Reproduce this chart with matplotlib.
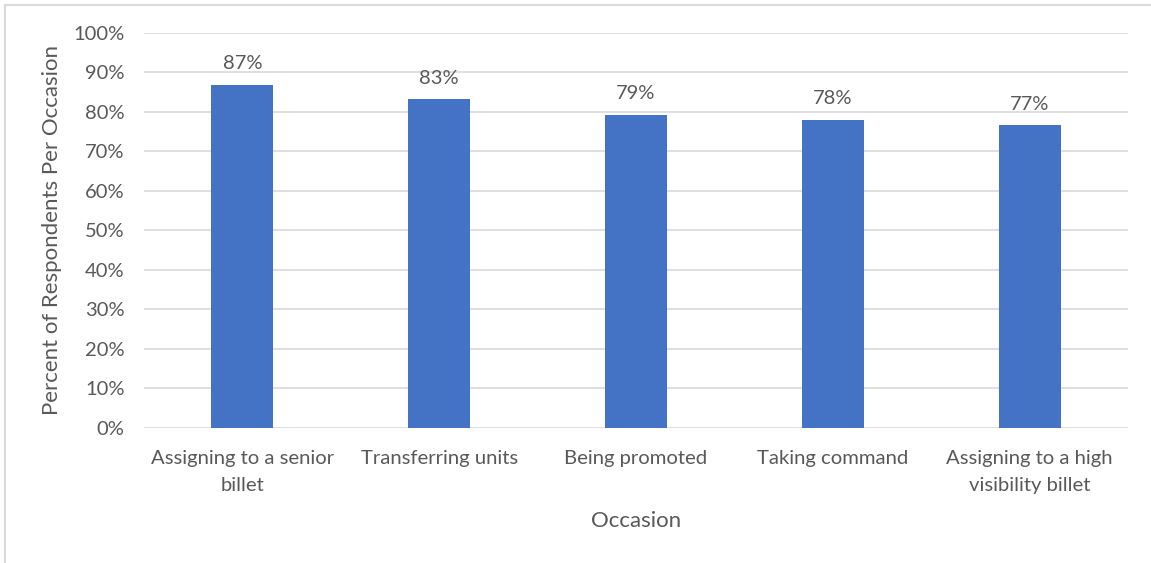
import matplotlib.pyplot as plt
from matplotlib.lines import Line2D
from matplotlib.ticker import PercentFormatter

# Share of respondents by occasion
occasions = ['Assigning to a senior\nbillet', 'Transferring units', 'Being promoted',
             'Taking command', 'Assigning to a high\nvisibility billet']
percents = [86.8, 83.2, 79.3, 78.0, 76.6]

plt.rcParams['font.family'] = ['Lato', 'DejaVu Sans']
text_color = '#595959'
grid_color = '#D9D9D9'

fig = plt.figure(figsize=(11.51, 5.63), dpi=100)
ax = fig.add_axes([0.1251, 0.2398, 0.855, 0.7016])

x = range(len(occasions))
bars = ax.bar(x, percents, width=0.315, color='#4472C4', zorder=3)
for b, v in zip(bars, percents):
    ax.text(b.get_x() + b.get_width() / 2, v + 3.2, f'{v:.0f}%', ha='center', va='bottom',
            fontsize=14.5, color=text_color)

ax.set_xlim(-0.5, len(occasions) - 0.5)
ax.set_ylim(0, 100)
ax.set_yticks(range(0, 101, 10))
ax.yaxis.set_major_formatter(PercentFormatter(decimals=0))
ax.set_xticks(list(x))
ax.set_xticklabels(occasions, fontsize=14.6, color=text_color, linespacing=1.7)
ax.tick_params(axis='y', labelsize=14.5, labelcolor=text_color, length=0, pad=14)
ax.tick_params(axis='x', length=0, pad=16)
ax.grid(axis='y', color=grid_color, linewidth=1.2, zorder=0)
for s in ax.spines.values():
    s.set_visible(False)

ax.set_ylabel('Percent of Respondents Per Occasion', fontsize=16, color=text_color, labelpad=8)
ax.set_xlabel('Occasion', fontsize=16, color=text_color, labelpad=12)

# chart frame on left and top edges
fig.add_artist(Line2D([5 / 1151, 5 / 1151], [0, 1 - 5 / 563], color=grid_color, lw=1.5))
fig.add_artist(Line2D([5 / 1151, 1], [1 - 5 / 563, 1 - 5 / 563], color=grid_color, lw=1.5))

fig.savefig('out.png', dpi=100)
